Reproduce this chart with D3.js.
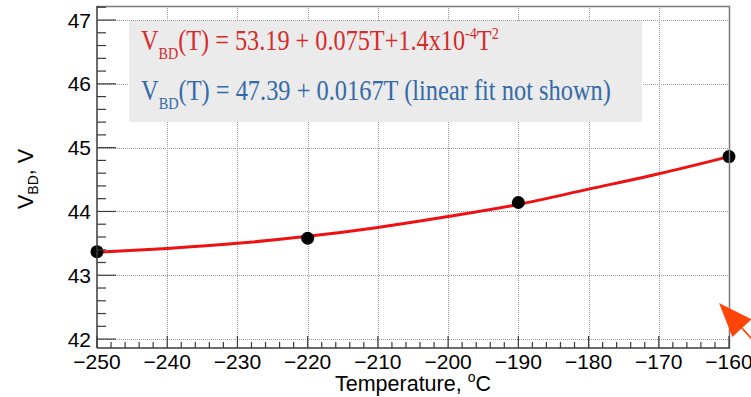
<!DOCTYPE html>
<html>
<head>
<meta charset="utf-8">
<script src="https://cdn.jsdelivr.net/npm/d3@7.9.0/dist/d3.min.js"></script>
<style>
  html, body { margin: 0; padding: 0; background: #fff; }
  svg { display: block; }
</style>
</head>
<body>
<svg id="chart"></svg>
<script>
// measured breakdown voltage vs temperature
const tempC = [-250, -220, -190, -160];
const vbd = [43.37, 43.58, 44.14, 44.86];

// quadratic fit curve
const fitT = [-250, -240, -230, -220, -210, -200, -190, -180, -170, -160];
const fitV = [43.36, 43.42, 43.50, 43.61, 43.75, 43.92, 44.11, 44.35, 44.59, 44.86];

const xMajor = [-250, -240, -230, -220, -210, -200, -190, -180, -170, -160];
const xLabels = ["\u2212250", "\u2212240", "\u2212230", "\u2212220", "\u2212210", "\u2212200", "\u2212190", "\u2212180", "\u2212170", "\u2212160"];
const yMajor = [42, 43, 44, 45, 46, 47];
const yLabels = ["42", "43", "44", "45", "46", "47"];

const width = 751, height = 397;
const pL = 97, pR = 729, pT = 6, pB = 348;

const svg = d3.select("#chart").attr("width", width).attr("height", height);

const x = d3.scaleLinear().domain([-250, -160]).range([pL, pR]);
const y = d3.scaleLinear().domain([41.86, 47.22]).range([pB, pT]);

const xMinor = d3.range(-250, -159.9, 2);
const yMinor = d3.range(42, 47.21, 0.2);

//------------------------------------------------------------
// grid
//------------------------------------------------------------
const grid = svg.append("g")
  .attr("stroke", "#9a9a9a")
  .attr("stroke-width", 1)
  .attr("stroke-dasharray", "1,1");

grid.selectAll("line.gx")
  .data(xMajor.slice(1, -1))
  .enter().append("line")
  .attr("x1", d => Math.round(x(d)) + 0.5).attr("x2", d => Math.round(x(d)) + 0.5)
  .attr("y1", pT).attr("y2", pB);

grid.selectAll("line.gy")
  .data(yMajor)
  .enter().append("line")
  .attr("x1", pL).attr("x2", pR)
  .attr("y1", d => Math.round(y(d)) + 0.5).attr("y2", d => Math.round(y(d)) + 0.5);

//------------------------------------------------------------
// legend box with fit equations
//------------------------------------------------------------
svg.append("rect")
  .attr("x", 129).attr("y", 21)
  .attr("width", 513).attr("height", 101)
  .attr("fill", "#ebebeb");

function equation(tx, ty, color, parts, targetWidth) {
  const g = svg.append("g");
  const t = g.append("text")
    .attr("font-family", "'Liberation Serif', 'Times New Roman', serif")
    .attr("font-size", 29)
    .attr("fill", color);
  let shift = 0;
  parts.forEach(p => {
    const want = p.sub ? 9 : p.sup ? -11 : 0;
    t.append("tspan")
      .attr("dy", want - shift)
      .attr("font-size", p.sub || p.sup ? 17 : null)
      .text(p.t);
    shift = want;
  });
  const w = t.node().getComputedTextLength();
  g.attr("transform", `translate(${tx},${ty}) scale(${targetWidth / w},1)`);
}

equation(141, 50, "#d42b2b", [
  { t: "V" }, { t: "BD", sub: true }, { t: "(T) = 53.19 + 0.075T+1.4x10" },
  { t: "-4", sup: true }, { t: "T" }, { t: "2", sup: true }
], 358);

equation(141, 100, "#336aa8", [
  { t: "V" }, { t: "BD", sub: true }, { t: "(T) = 47.39 + 0.0167T (linear fit not shown)" }
], 470);

//------------------------------------------------------------
// fit curve + data points
//------------------------------------------------------------
const fitData = fitT.map((t, i) => ({ t, v: fitV[i] }));
const line = d3.line()
  .x(d => x(d.t))
  .y(d => y(d.v))
  .curve(d3.curveMonotoneX);

svg.append("path")
  .datum(fitData)
  .attr("d", line)
  .attr("fill", "none")
  .attr("stroke", "#ee1111")
  .attr("stroke-width", 3);

svg.selectAll("circle.pt")
  .data(tempC.map((t, i) => ({ t, v: vbd[i] })))
  .enter().append("circle")
  .attr("cx", d => x(d.t))
  .attr("cy", d => y(d.v))
  .attr("r", 6.5)
  .attr("fill", "#000");

//------------------------------------------------------------
// frame, axes, ticks
//------------------------------------------------------------
svg.append("path")
  .attr("d", `M${pL},${pT + 0.5}H${pR + 0.5}V${pB}`)
  .attr("fill", "none")
  .attr("stroke", "#7a7a7a")
  .attr("stroke-width", 1.5);

const axes = svg.append("g").attr("stroke", "#3a3a3a").attr("stroke-width", 1.5);
axes.append("line").attr("x1", pL).attr("x2", pL).attr("y1", pT).attr("y2", pB);
axes.append("line").attr("x1", pL).attr("x2", pR + 1).attr("y1", pB).attr("y2", pB);

axes.selectAll("line.xt")
  .data(xMinor)
  .enter().append("line")
  .attr("x1", d => x(d)).attr("x2", d => x(d))
  .attr("y1", pB)
  .attr("y2", d => pB - (Math.abs(d % 10) < 1e-6 ? 12 : 6))
  .attr("stroke-width", 1.2);

axes.selectAll("line.yt")
  .data(yMinor)
  .enter().append("line")
  .attr("y1", d => y(d)).attr("y2", d => y(d))
  .attr("x1", pL)
  .attr("x2", d => pL + (Math.abs(d - Math.round(d)) < 1e-6 ? 19 : 9))
  .attr("stroke-width", 1.2);

const tickFont = "'Liberation Sans', Arial, Helvetica, sans-serif";

svg.selectAll("text.xl")
  .data(xMajor)
  .enter().append("text")
  .attr("x", d => x(d))
  .attr("y", 369)
  .attr("text-anchor", "middle")
  .attr("font-family", tickFont)
  .attr("font-size", 21)
  .attr("fill", "#000")
  .text((d, i) => xLabels[i]);

svg.selectAll("text.yl")
  .data(yMajor)
  .enter().append("text")
  .attr("x", 91)
  .attr("y", d => y(d) + 7.5)
  .attr("text-anchor", "end")
  .attr("font-family", tickFont)
  .attr("font-size", 21)
  .attr("fill", "#000")
  .text((d, i) => yLabels[i]);

// axis titles
const xt = svg.append("text")
  .attr("x", (pL + pR) / 2)
  .attr("y", 391)
  .attr("text-anchor", "middle")
  .attr("font-family", tickFont)
  .attr("font-size", 21.5)
  .attr("fill", "#000");
xt.append("tspan").text("Temperature, ");
xt.append("tspan").attr("dy", -9).attr("font-size", 14).text("o");
xt.append("tspan").attr("dy", 9).text("C");

const yt = svg.append("text")
  .attr("transform", `translate(33,${(pT + pB) / 2 + 2}) rotate(-90)`)
  .attr("text-anchor", "middle")
  .attr("font-family", tickFont)
  .attr("font-size", 21.5)
  .attr("fill", "#000");
yt.append("tspan").text("V");
yt.append("tspan").attr("dy", 5).attr("font-size", 14).text("BD");
yt.append("tspan").attr("dy", -5).text(", V");

//------------------------------------------------------------
// orange annotation arrow (partly outside the picture)
//------------------------------------------------------------
const arrowTip = { t: -161.42, v: 42.565 };
const ax = x(arrowTip.t), ay = y(arrowTip.v);
const dir = [0.675, 0.738], perp = [-0.738, 0.675];
const headLen = 34, headHalf = 13;
const bx = ax + dir[0] * headLen, by = ay + dir[1] * headLen;

svg.append("line")
  .attr("x1", bx).attr("y1", by)
  .attr("x2", ax + dir[0] * 120).attr("y2", ay + dir[1] * 120)
  .attr("stroke", "#ff4408")
  .attr("stroke-width", 1.6);

svg.append("path")
  .attr("d", `M${ax},${ay}L${bx + perp[0] * headHalf},${by + perp[1] * headHalf}L${bx - perp[0] * headHalf},${by - perp[1] * headHalf}Z`)
  .attr("fill", "#ff4408");
</script>
</body>
</html>
